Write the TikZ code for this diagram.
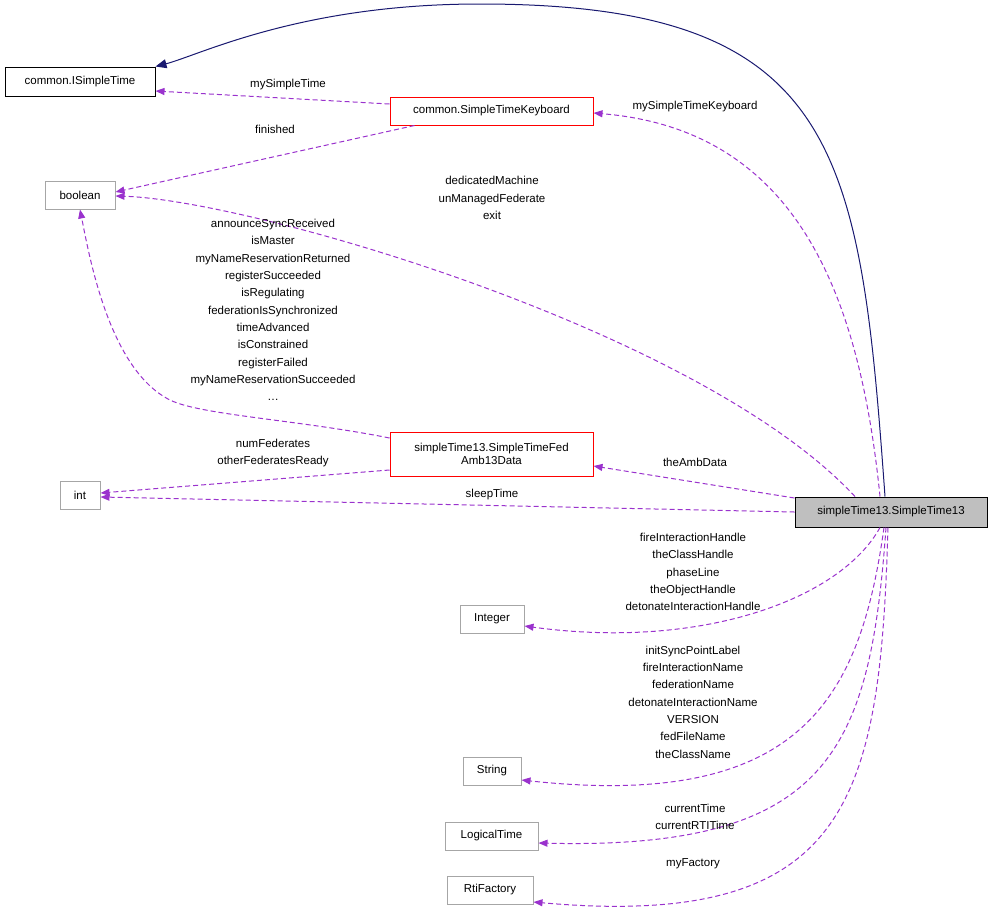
\documentclass[tikz,border=0pt]{standalone}
\usepackage{fontspec}
\setmainfont{Liberation Sans}
\usetikzlibrary{arrows.meta,positioning}
\definecolor{Purple}{RGB}{154,50,205}
\definecolor{Navy}{RGB}{25,25,112}
\definecolor{Grey}{RGB}{191,191,191}

\begin{document}
\begin{tikzpicture}[x=1pt,y=-1pt, line width=1pt,
       every node/.style={font=\fontsize{11.5}{13}\selectfont},
       cls/.style 2 args = {draw=#1, fill=#2, inner sep=0pt, align=center},
       usage/.style = {Purple, dashed, dash pattern=on 5pt off 3pt, -{Triangle[length=9pt,width=7pt]}},
       lbl/.style = {align=center, inner sep=0pt, font=\fontsize{11.5}{17.3}\selectfont}]
    \useasboundingbox (0,0) rectangle (992,919);

	%% Class boxes
	\node [cls={black}{white}, minimum width=150, minimum height=29] (isimple) at (80,81.5) {common.ISimpleTime};
	\node [cls={red}{white}, minimum width=203, minimum height=28] (keyboard) at (491.5,111) {common.SimpleTimeKeyboard};
	\node [cls={gray!70}{white}, minimum width=70, minimum height=28] (boolean) at (80,195) {boolean};
	\node [cls={red}{white}, minimum width=203, minimum height=44] (ambdata) at (491.5,454) {simpleTime13.SimpleTimeFed\\Amb13Data};
	\node [cls={gray!70}{white}, minimum width=40, minimum height=28] (int) at (80,495) {int};
	\node [cls={black}{Grey}, minimum width=192, minimum height=30] (main) at (891,512) {simpleTime13.SimpleTime13};
	\node [cls={gray!70}{white}, minimum width=64, minimum height=28] (integer) at (492,619) {Integer};
	\node [cls={gray!70}{white}, minimum width=58, minimum height=28] (string) at (492,771) {String};
	\node [cls={gray!70}{white}, minimum width=93, minimum height=28] (logical) at (491.5,836) {LogicalTime};
	\node [cls={gray!70}{white}, minimum width=86, minimum height=28] (factory) at (490,890) {RtiFactory};

	%% Inheritance
	\draw [Navy, -{Triangle[length=11pt,width=9pt]}] (main.north -| 885,0) .. controls (860,150) and (840,4) .. (480,4)
	      .. controls (300,4) and (200,55) .. (isimple.north east);

	%% Usage relations
	\draw [usage] (keyboard.west |- 0,104) -- (isimple.east |- 0,91);
	\draw [usage] (keyboard.south west) ++(25,0) coordinate (kb) -- (boolean.east |- 0,192);
	\draw [usage] (main.north -| 880,0) .. controls (860,300) and (800,130) .. (keyboard.east |- 0,113);
	\draw [usage] (main.north -| 855,0) .. controls (700,330) and (250,200) .. (boolean.east |- 0,196);
	\draw [usage] (ambdata.west |- 0,438) .. controls (300,420) and (200,415) .. (170,400) .. controls (110,370) and (90,260) .. (boolean.south);
	\draw [usage] (ambdata.west |- 0,470) -- (int.east |- 0,493);
	\draw [usage] (main.west |- 0,498) -- (ambdata.east |- 0,466);
	\draw [usage] (main.west |- 0,512) -- (int.east |- 0,497);
	\draw [usage] (main.south -| 880,0) .. controls (840,600) and (700,650) .. (integer.east |- 0,626);
	\draw [usage] (main.south -| 884,0) .. controls (860,700) and (800,810) .. (string.east |- 0,780);
	\draw [usage] (main.south -| 886,0) .. controls (870,750) and (830,850) .. (logical.east |- 0,843);
	\draw [usage] (main.south -| 888,0) .. controls (880,800) and (850,930) .. (factory.east |- 0,902);

	%% Labels
	\node [lbl] (l1) at (288,85) {mySimpleTime};
	\node [lbl] (l2) at (275,129) {finished};
	\node [lbl] (l3) at (695,107) {mySimpleTimeKeyboard};
	\node [lbl] (l4) at (492,198) {dedicatedMachine\\unManagedFederate\\exit};
	\node [lbl] (l5) at (273,310) {announceSyncReceived\\isMaster\\myNameReservationReturned\\registerSucceeded\\isRegulating\\federationIsSynchronized\\timeAdvanced\\isConstrained\\registerFailed\\myNameReservationSucceeded\\\dots};
	\node [lbl] (l6) at (273,453) {numFederates\\otherFederatesReady};
	\node [lbl] (l7) at (695,462) {theAmbData};
	\node [lbl] (l8) at (492,495) {sleepTime};
	\node [lbl] (l9) at (693,572) {fireInteractionHandle\\theClassHandle\\phaseLine\\theObjectHandle\\detonateInteractionHandle};
	\node [lbl] (l10) at (693,702) {initSyncPointLabel\\fireInteractionName\\federationName\\detonateInteractionName\\VERSION\\fedFileName\\theClassName};
	\node [lbl] (l11) at (695,817) {currentTime\\currentRTITime};
	\node [lbl] (l12) at (693,864) {myFactory};
\end{tikzpicture}
\end{document}
